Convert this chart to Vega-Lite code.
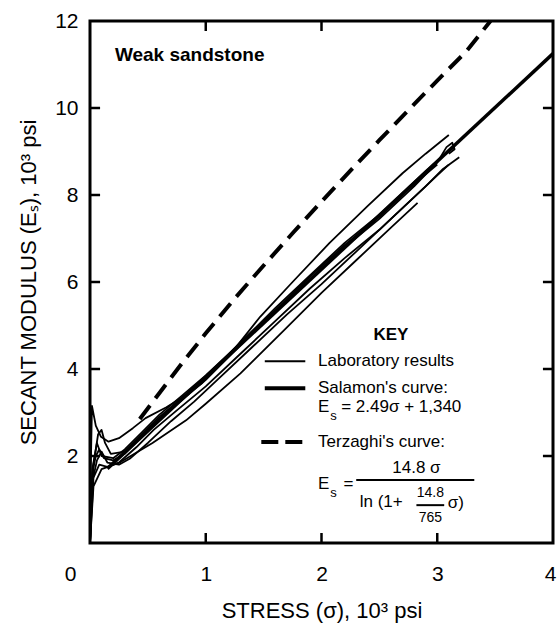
{
  "$schema": "https://vega.github.io/schema/vega-lite/v6.json",
  "width": 463,
  "height": 522,
  "autosize": {"type": "none"},
  "padding": {"left": 90, "top": 21, "right": 4, "bottom": 81},
  "config": {
    "font": "Liberation Sans",
    "view": {"stroke": "black", "strokeWidth": 3},
    "axis": {"domain": false, "grid": false, "ticks": false, "labelColor": "black", "titleColor": "black", "labelFont": "Liberation Sans", "titleFont": "Liberation Sans", "titleFontWeight": "normal"}
  },
  "datasets": {
    "lab": [
      {"c": 1, "i": 0, "x": 0, "y": 0}, {"c": 1, "i": 1, "x": 0.005, "y": 1.5}, {"c": 1, "i": 2, "x": 0.017, "y": 3.15}, {"c": 1, "i": 3, "x": 0.05, "y": 2.7}, {"c": 1, "i": 4, "x": 0.095, "y": 2.44}, {"c": 1, "i": 5, "x": 0.16, "y": 2.33}, {"c": 1, "i": 6, "x": 0.25, "y": 2.41}, {"c": 1, "i": 7, "x": 0.37, "y": 2.64}, {"c": 1, "i": 8, "x": 0.48, "y": 2.87}, {"c": 1, "i": 9, "x": 0.66, "y": 3.12}, {"c": 1, "i": 10, "x": 0.83, "y": 3.4}, {"c": 1, "i": 11, "x": 0.97, "y": 3.68}, {"c": 1, "i": 12, "x": 1.2, "y": 4.3}, {"c": 1, "i": 13, "x": 1.47, "y": 5.2}, {"c": 1, "i": 14, "x": 1.75, "y": 6.0}, {"c": 1, "i": 15, "x": 2.07, "y": 6.9}, {"c": 1, "i": 16, "x": 2.4, "y": 7.75}, {"c": 1, "i": 17, "x": 2.7, "y": 8.5}, {"c": 1, "i": 18, "x": 2.9, "y": 8.95}, {"c": 1, "i": 19, "x": 3.1, "y": 9.38},
      {"c": 2, "i": 0, "x": 0, "y": 0}, {"c": 2, "i": 1, "x": 0.02, "y": 1.6}, {"c": 2, "i": 2, "x": 0.05, "y": 2.0}, {"c": 2, "i": 3, "x": 0.08, "y": 2.15}, {"c": 2, "i": 4, "x": 0.12, "y": 1.95}, {"c": 2, "i": 5, "x": 0.2, "y": 1.9}, {"c": 2, "i": 6, "x": 0.3, "y": 2.05}, {"c": 2, "i": 7, "x": 0.45, "y": 2.45}, {"c": 2, "i": 8, "x": 0.6, "y": 2.85}, {"c": 2, "i": 9, "x": 0.8, "y": 3.3}, {"c": 2, "i": 10, "x": 1.0, "y": 3.75}, {"c": 2, "i": 11, "x": 1.3, "y": 4.55}, {"c": 2, "i": 12, "x": 1.6, "y": 5.3}, {"c": 2, "i": 13, "x": 1.9, "y": 6.05}, {"c": 2, "i": 14, "x": 2.2, "y": 6.8}, {"c": 2, "i": 15, "x": 2.5, "y": 7.45}, {"c": 2, "i": 16, "x": 2.8, "y": 8.2}, {"c": 2, "i": 17, "x": 3.0, "y": 8.75}, {"c": 2, "i": 18, "x": 3.08, "y": 9.1}, {"c": 2, "i": 19, "x": 3.13, "y": 9.2}, {"c": 2, "i": 20, "x": 3.15, "y": 9.05}, {"c": 2, "i": 21, "x": 3.1, "y": 8.95},
      {"c": 3, "i": 0, "x": 0, "y": 0}, {"c": 3, "i": 1, "x": 0.02, "y": 1.4}, {"c": 3, "i": 2, "x": 0.06, "y": 1.9}, {"c": 3, "i": 3, "x": 0.1, "y": 2.1}, {"c": 3, "i": 4, "x": 0.15, "y": 1.85}, {"c": 3, "i": 5, "x": 0.25, "y": 1.8}, {"c": 3, "i": 6, "x": 0.35, "y": 1.95}, {"c": 3, "i": 7, "x": 0.5, "y": 2.3}, {"c": 3, "i": 8, "x": 0.7, "y": 2.8}, {"c": 3, "i": 9, "x": 0.9, "y": 3.25}, {"c": 3, "i": 10, "x": 1.1, "y": 3.75}, {"c": 3, "i": 11, "x": 1.4, "y": 4.5}, {"c": 3, "i": 12, "x": 1.7, "y": 5.25}, {"c": 3, "i": 13, "x": 2.0, "y": 5.95}, {"c": 3, "i": 14, "x": 2.3, "y": 6.7}, {"c": 3, "i": 15, "x": 2.6, "y": 7.45}, {"c": 3, "i": 16, "x": 2.9, "y": 8.2}, {"c": 3, "i": 17, "x": 3.05, "y": 8.6}, {"c": 3, "i": 18, "x": 3.19, "y": 8.87},
      {"c": 4, "i": 0, "x": 0, "y": 0}, {"c": 4, "i": 1, "x": 0.03, "y": 1.3}, {"c": 4, "i": 2, "x": 0.1, "y": 1.7}, {"c": 4, "i": 3, "x": 0.25, "y": 1.84}, {"c": 4, "i": 4, "x": 0.54, "y": 2.3}, {"c": 4, "i": 5, "x": 0.83, "y": 2.82}, {"c": 4, "i": 6, "x": 1.0, "y": 3.2}, {"c": 4, "i": 7, "x": 1.3, "y": 3.9}, {"c": 4, "i": 8, "x": 1.66, "y": 4.85}, {"c": 4, "i": 9, "x": 2.0, "y": 5.75}, {"c": 4, "i": 10, "x": 2.3, "y": 6.5}, {"c": 4, "i": 11, "x": 2.6, "y": 7.25}, {"c": 4, "i": 12, "x": 2.83, "y": 7.82},
      {"c": 5, "i": 0, "x": 0, "y": 0}, {"c": 5, "i": 1, "x": 0.02, "y": 1.7}, {"c": 5, "i": 2, "x": 0.06, "y": 2.3}, {"c": 5, "i": 3, "x": 0.1, "y": 2.0}, {"c": 5, "i": 4, "x": 0.2, "y": 1.95}, {"c": 5, "i": 5, "x": 0.3, "y": 2.15}, {"c": 5, "i": 6, "x": 0.45, "y": 2.55}, {"c": 5, "i": 7, "x": 0.6, "y": 2.95}, {"c": 5, "i": 8, "x": 0.8, "y": 3.4}, {"c": 5, "i": 9, "x": 1.0, "y": 3.85}, {"c": 5, "i": 10, "x": 1.3, "y": 4.6}, {"c": 5, "i": 11, "x": 1.6, "y": 5.4}, {"c": 5, "i": 12, "x": 1.9, "y": 6.15}, {"c": 5, "i": 13, "x": 2.2, "y": 6.9}, {"c": 5, "i": 14, "x": 2.5, "y": 7.55}, {"c": 5, "i": 15, "x": 2.7, "y": 8.05}, {"c": 5, "i": 16, "x": 2.9, "y": 8.55}, {"c": 5, "i": 17, "x": 3.05, "y": 8.9}, {"c": 5, "i": 18, "x": 3.15, "y": 9.1},
      {"c": 6, "i": 0, "x": 0, "y": 0}, {"c": 6, "i": 1, "x": 0.03, "y": 1.5}, {"c": 6, "i": 2, "x": 0.08, "y": 1.8}, {"c": 6, "i": 3, "x": 0.15, "y": 1.75}, {"c": 6, "i": 4, "x": 0.25, "y": 1.85}, {"c": 6, "i": 5, "x": 0.4, "y": 2.2}, {"c": 6, "i": 6, "x": 0.55, "y": 2.6}, {"c": 6, "i": 7, "x": 0.75, "y": 3.05}, {"c": 6, "i": 8, "x": 1.0, "y": 3.6}, {"c": 6, "i": 9, "x": 1.3, "y": 4.35}, {"c": 6, "i": 10, "x": 1.6, "y": 5.1}, {"c": 6, "i": 11, "x": 1.9, "y": 5.85}, {"c": 6, "i": 12, "x": 2.2, "y": 6.55}, {"c": 6, "i": 13, "x": 2.5, "y": 7.2}, {"c": 6, "i": 14, "x": 2.8, "y": 7.95}, {"c": 6, "i": 15, "x": 3.0, "y": 8.45}, {"c": 6, "i": 16, "x": 3.1, "y": 8.7},
      {"c": 7, "i": 0, "x": 0, "y": 0}, {"c": 7, "i": 1, "x": 0.03, "y": 1.8}, {"c": 7, "i": 2, "x": 0.07, "y": 2.5}, {"c": 7, "i": 3, "x": 0.1, "y": 2.6}, {"c": 7, "i": 4, "x": 0.13, "y": 2.3}, {"c": 7, "i": 5, "x": 0.18, "y": 2.05}, {"c": 7, "i": 6, "x": 0.3, "y": 2.1}, {"c": 7, "i": 7, "x": 0.45, "y": 2.5}, {"c": 7, "i": 8, "x": 0.6, "y": 2.9}, {"c": 7, "i": 9, "x": 0.8, "y": 3.35}, {"c": 7, "i": 10, "x": 1.0, "y": 3.8}, {"c": 7, "i": 11, "x": 1.3, "y": 4.62}, {"c": 7, "i": 12, "x": 1.6, "y": 5.35}, {"c": 7, "i": 13, "x": 1.9, "y": 6.12}, {"c": 7, "i": 14, "x": 2.2, "y": 6.85}, {"c": 7, "i": 15, "x": 2.5, "y": 7.5}, {"c": 7, "i": 16, "x": 2.8, "y": 8.25}, {"c": 7, "i": 17, "x": 3.0, "y": 8.7}
    ],
    "salamon": [{"x": 0.15, "y": 1.71}, {"x": 4.0, "y": 11.25}],
    "terzaghi": [
      {"x": 0.43, "y": 2.85}, {"x": 0.6, "y": 3.45}, {"x": 0.8, "y": 4.15}, {"x": 1.0, "y": 4.82}, {"x": 1.25, "y": 5.62}, {"x": 1.5, "y": 6.38}, {"x": 1.75, "y": 7.12}, {"x": 2.0, "y": 7.85}, {"x": 2.25, "y": 8.56}, {"x": 2.5, "y": 9.26}, {"x": 2.75, "y": 9.95}, {"x": 3.0, "y": 10.63}, {"x": 3.25, "y": 11.3}, {"x": 3.46, "y": 12.0}
    ],
    "tickmarks": [
      {"k": "b1", "x": 1, "y": 0}, {"k": "b1", "x": 1, "y": 0.23},
      {"k": "b2", "x": 2, "y": 0}, {"k": "b2", "x": 2, "y": 0.23},
      {"k": "b3", "x": 3, "y": 0}, {"k": "b3", "x": 3, "y": 0.23},
      {"k": "t1", "x": 1, "y": 12}, {"k": "t1", "x": 1, "y": 11.77},
      {"k": "t2", "x": 2, "y": 12}, {"k": "t2", "x": 2, "y": 11.77},
      {"k": "t3", "x": 3, "y": 12}, {"k": "t3", "x": 3, "y": 11.77},
      {"k": "l2", "x": 0, "y": 2}, {"k": "l2", "x": 0.087, "y": 2},
      {"k": "l4", "x": 0, "y": 4}, {"k": "l4", "x": 0.087, "y": 4},
      {"k": "l6", "x": 0, "y": 6}, {"k": "l6", "x": 0.087, "y": 6},
      {"k": "l8", "x": 0, "y": 8}, {"k": "l8", "x": 0.087, "y": 8},
      {"k": "l10", "x": 0, "y": 10}, {"k": "l10", "x": 0.087, "y": 10},
      {"k": "r2", "x": 4, "y": 2}, {"k": "r2", "x": 3.913, "y": 2},
      {"k": "r4", "x": 4, "y": 4}, {"k": "r4", "x": 3.913, "y": 4},
      {"k": "r6", "x": 4, "y": 6}, {"k": "r6", "x": 3.913, "y": 6},
      {"k": "r8", "x": 4, "y": 8}, {"k": "r8", "x": 3.913, "y": 8},
      {"k": "r10", "x": 4, "y": 10}, {"k": "r10", "x": 3.913, "y": 10}
    ]
  },
  "layer": [
    {
      "data": {"name": "lab"},
      "mark": {"type": "line", "color": "black", "strokeWidth": 1.8, "strokeJoin": "round"},
      "encoding": {
        "x": {"field": "x", "type": "quantitative", "scale": {"domain": [0, 4], "nice": false},
          "axis": {"orient": "bottom", "values": [0, 1, 2, 3, 4], "format": "d", "labelFontSize": 21, "labelPadding": 20, "labelFlush": false,
            "labelOffset": {"condition": [{"test": "datum.value === 0", "value": -20}, {"test": "datum.value === 4", "value": -3}], "value": 0},
            "title": "STRESS (σ), 10³ psi", "titleFontSize": 22, "titlePadding": 16}},
        "y": {"field": "y", "type": "quantitative", "scale": {"domain": [0, 12], "nice": false},
          "axis": {"orient": "left", "values": [0, 2, 4, 6, 8, 10, 12], "format": "d", "labelFontSize": 21, "labelPadding": 12,
            "labelExpr": "datum.value === 0 ? '' : datum.label",
            "title": "SECANT MODULUS (Eₛ), 10³ psi", "titleFontSize": 22, "titlePadding": 14}},
        "detail": {"field": "c"},
        "order": {"field": "i"}
      }
    },
    {
      "data": {"name": "tickmarks"},
      "mark": {"type": "line", "color": "black", "strokeWidth": 2.5},
      "encoding": {
        "x": {"field": "x", "type": "quantitative"},
        "y": {"field": "y", "type": "quantitative"},
        "detail": {"field": "k"}
      }
    },
    {
      "data": {"name": "salamon"},
      "mark": {"type": "line", "color": "black", "strokeWidth": 3.5},
      "encoding": {
        "x": {"field": "x", "type": "quantitative"},
        "y": {"field": "y", "type": "quantitative"}
      }
    },
    {
      "data": {"name": "terzaghi"},
      "mark": {"type": "line", "color": "black", "strokeWidth": 4, "strokeDash": [17, 9]},
      "encoding": {
        "x": {"field": "x", "type": "quantitative"},
        "y": {"field": "y", "type": "quantitative"}
      }
    },
    {
      "data": {"values": [{"x": 1.51, "x2": 1.86, "y": 4.18}]},
      "mark": {"type": "rule", "color": "black", "strokeWidth": 2},
      "encoding": {
        "x": {"field": "x", "type": "quantitative"}, "x2": {"field": "x2"},
        "y": {"field": "y", "type": "quantitative"}
      }
    },
    {
      "data": {"values": [{"x": 1.51, "x2": 1.86, "y": 3.56}]},
      "mark": {"type": "rule", "color": "black", "strokeWidth": 4},
      "encoding": {
        "x": {"field": "x", "type": "quantitative"}, "x2": {"field": "x2"},
        "y": {"field": "y", "type": "quantitative"}
      }
    },
    {
      "data": {"values": [{"x": 1.48, "x2": 1.86, "y": 2.32}]},
      "mark": {"type": "rule", "color": "black", "strokeWidth": 4, "strokeDash": [17, 7]},
      "encoding": {
        "x": {"field": "x", "type": "quantitative"}, "x2": {"field": "x2"},
        "y": {"field": "y", "type": "quantitative"}
      }
    },
    {
      "data": {"values": [{"x": 2.3, "x2": 3.32, "y": 1.45}, {"x": 2.82, "x2": 3.06, "y": 0.87}]},
      "mark": {"type": "rule", "color": "black", "strokeWidth": 2},
      "encoding": {
        "x": {"field": "x", "type": "quantitative"}, "x2": {"field": "x2"},
        "y": {"field": "y", "type": "quantitative"}
      }
    },
    {
      "data": {"values": [{"t": "Weak  sandstone", "x": 0.215, "y": 11.22}]},
      "mark": {"type": "text", "align": "left", "baseline": "middle", "fontSize": 19, "fontWeight": "bold", "color": "black"},
      "encoding": {
        "x": {"field": "x", "type": "quantitative"},
        "y": {"field": "y", "type": "quantitative"},
        "text": {"field": "t"}
      }
    },
    {
      "data": {"values": [{"t": "KEY", "x": 2.6, "y": 4.78}]},
      "mark": {"type": "text", "align": "center", "baseline": "middle", "fontSize": 17, "fontWeight": "bold", "color": "black"},
      "encoding": {
        "x": {"field": "x", "type": "quantitative"},
        "y": {"field": "y", "type": "quantitative"},
        "text": {"field": "t"}
      }
    },
    {
      "data": {"values": [
        {"t": "Laboratory results", "x": 1.97, "y": 4.18},
        {"t": "Salamon's curve:", "x": 1.97, "y": 3.56},
        {"t": "E", "x": 1.97, "y": 3.12},
        {"t": "= 2.49σ + 1,340", "x": 2.17, "y": 3.12},
        {"t": "Terzaghi's curve:", "x": 1.97, "y": 2.32},
        {"t": "E", "x": 1.97, "y": 1.36},
        {"t": "=", "x": 2.19, "y": 1.36},
        {"t": "ln (1+", "x": 2.33, "y": 0.95},
        {"t": "σ)", "x": 3.09, "y": 0.92}
      ]},
      "mark": {"type": "text", "align": "left", "baseline": "middle", "fontSize": 17, "color": "black"},
      "encoding": {
        "x": {"field": "x", "type": "quantitative"},
        "y": {"field": "y", "type": "quantitative"},
        "text": {"field": "t"}
      }
    },
    {
      "data": {"values": [{"t": "14.8 σ", "x": 2.82, "y": 1.72}]},
      "mark": {"type": "text", "align": "center", "baseline": "middle", "fontSize": 17, "color": "black"},
      "encoding": {
        "x": {"field": "x", "type": "quantitative"},
        "y": {"field": "y", "type": "quantitative"},
        "text": {"field": "t"}
      }
    },
    {
      "data": {"values": [{"t": "s", "x": 2.075, "y": 2.92}, {"t": "s", "x": 2.075, "y": 1.16}]},
      "mark": {"type": "text", "align": "left", "baseline": "middle", "fontSize": 13, "color": "black"},
      "encoding": {
        "x": {"field": "x", "type": "quantitative"},
        "y": {"field": "y", "type": "quantitative"},
        "text": {"field": "t"}
      }
    },
    {
      "data": {"values": [{"t": "14.8", "x": 2.94, "y": 1.15}, {"t": "765", "x": 2.94, "y": 0.58}]},
      "mark": {"type": "text", "align": "center", "baseline": "middle", "fontSize": 14, "color": "black"},
      "encoding": {
        "x": {"field": "x", "type": "quantitative"},
        "y": {"field": "y", "type": "quantitative"},
        "text": {"field": "t"}
      }
    }
  ]
}
